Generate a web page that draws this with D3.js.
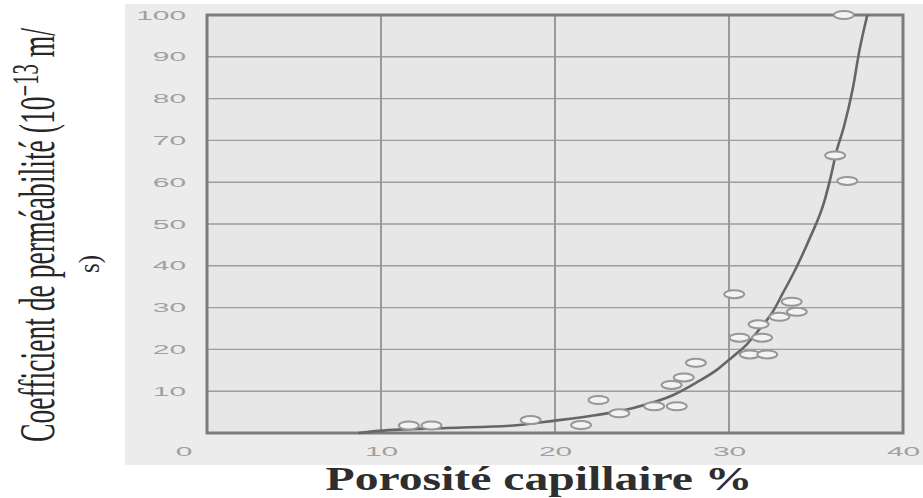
<!DOCTYPE html>
<html>
<head>
<meta charset="utf-8">
<script src="https://cdn.jsdelivr.net/npm/d3@7"></script>
<style>
  html, body { margin: 0; padding: 0; background: #ffffff; }
  svg { display: block; }
</style>
</head>
<body>
<svg id="chart" width="923" height="498"></svg>
<script>
// Capillary porosity (%) vs permeability coefficient (10^-13 m/s)
const xTicks = [10, 20, 30, 40];
const yTicks = [10, 20, 30, 40, 50, 60, 70, 80, 90, 100];
const xGrid = [10, 20, 30];
const yGrid = [10, 20, 30, 40, 50, 60, 70, 80, 90];

// measured samples: porosity (%) and permeability
const porosity = [11.6, 12.9, 18.6, 21.5, 22.5, 23.7, 25.7, 27.0, 26.7, 27.4, 28.1,
                  30.3, 30.6, 31.9, 31.2, 32.2, 31.7, 32.9, 33.6, 33.9, 36.1, 36.8, 36.6];
const permeability = [1.8, 1.8, 3.1, 1.9, 7.9, 4.7, 6.4, 6.4, 11.5, 13.3, 16.8,
                      33.2, 22.8, 22.8, 18.8, 18.8, 26.0, 27.8, 31.4, 29.0, 66.4, 60.3, 100];

// fitted trend curve
const curveX = [8.7, 9.9, 13.8, 17.6, 19.9, 22.4, 24.5, 26.8, 28.1, 29.3, 30.2, 31.0,
                31.8, 32.5, 33.1, 33.8, 34.6, 35.5, 35.8, 36.2, 36.6, 37.1, 37.5, 37.95];
const curveY = [0, 0.5, 1.2, 1.8, 2.9, 4.3, 6.0, 9.1, 12.0, 15.1, 18.2, 21.1,
                25.1, 28.9, 33.5, 39.0, 46.2, 55.7, 60.5, 67.7, 73.2, 82.1, 91.6, 100];

const svg = d3.select("#chart");
const x = d3.scaleLinear().domain([0, 40]).range([207, 903]);
const y = d3.scaleLinear().domain([0, 100]).range([433, 15]);

const tickStretch = 2.3;
const tickColor = "#a0a0a0";
const tickFont = "'Liberation Sans', Arial, sans-serif";

// grey card behind the plot
svg.append("rect")
  .attr("x", 125).attr("y", 4)
  .attr("width", 798).attr("height", 461)
  .attr("fill", "#ececec");

// plot area
svg.append("rect")
  .attr("x", x(0)).attr("y", y(100))
  .attr("width", x(40) - x(0)).attr("height", y(0) - y(100))
  .attr("fill", "#e7e7e7");

// grid
svg.append("g").selectAll("line").data(yGrid).join("line")
  .attr("x1", x(0)).attr("x2", x(40))
  .attr("y1", d => y(d)).attr("y2", d => y(d))
  .attr("stroke", "#9d9d9d").attr("stroke-width", 1.4);
svg.append("g").selectAll("line").data(xGrid).join("line")
  .attr("x1", d => x(d)).attr("x2", d => x(d))
  .attr("y1", y(0)).attr("y2", y(100))
  .attr("stroke", "#9a9a9a").attr("stroke-width", 2);

// frame
svg.append("rect")
  .attr("x", x(0)).attr("y", y(100))
  .attr("width", x(40) - x(0)).attr("height", y(0) - y(100))
  .attr("fill", "none")
  .attr("stroke", "#7c7c7c").attr("stroke-width", 3);

// trend curve
const line = d3.line()
  .x(d => x(d[0])).y(d => y(d[1]))
  .curve(d3.curveMonotoneX);
svg.append("path")
  .datum(curveX.map((v, i) => [v, curveY[i]]))
  .attr("d", line)
  .attr("fill", "none")
  .attr("stroke", "#666666")
  .attr("stroke-width", 2.6);

// sample markers
svg.append("g").selectAll("ellipse")
  .data(porosity.map((v, i) => [v, permeability[i]]))
  .join("ellipse")
  .attr("cx", d => x(d[0])).attr("cy", d => y(d[1]))
  .attr("rx", 10).attr("ry", 4)
  .attr("fill", "#f3f3f3")
  .attr("stroke", "#979797").attr("stroke-width", 2);

// axes (labels only)
const yAxis = svg.append("g")
  .attr("transform", `translate(${x(0)},0)`)
  .call(d3.axisLeft(y).tickValues(yTicks).tickSize(0).tickPadding(0));
yAxis.select(".domain").remove();
yAxis.selectAll("text")
  .attr("x", -21 / tickStretch)
  .attr("transform", `scale(${tickStretch},1)`)
  .attr("fill", tickColor)
  .style("font-family", tickFont)
  .style("font-size", "13px");

const xAxis = svg.append("g")
  .attr("transform", `translate(0,${y(0)})`)
  .call(d3.axisBottom(x).tickValues(xTicks).tickSize(0).tickPadding(14));
xAxis.select(".domain").remove();
xAxis.selectAll("text")
  .attr("transform", `scale(${tickStretch},1)`)
  .attr("fill", tickColor)
  .style("font-family", tickFont)
  .style("font-size", "13px");

// origin label
svg.append("text")
  .attr("transform", `translate(${x(0) - 23},${y(0) + 14}) scale(${tickStretch},1)`)
  .attr("dy", "0.71em")
  .attr("text-anchor", "middle")
  .attr("fill", tickColor)
  .style("font-family", tickFont)
  .style("font-size", "13px")
  .text("0");

// x axis title
const xTitle = svg.append("text")
  .attr("text-anchor", "middle")
  .attr("fill", "#2e2e2e")
  .style("font-family", "'Liberation Serif', 'Times New Roman', serif")
  .style("font-weight", "bold")
  .style("font-size", "34px")
  .text("Porosité capillaire %");
{
  const w = xTitle.node().getComputedTextLength();
  xTitle.attr("transform", `translate(539,490) scale(${427 / w},1)`);
}

// y axis title (two lines, rotated)
const yTitle = svg.append("text")
  .attr("text-anchor", "middle")
  .attr("fill", "#262626")
  .style("font-family", "'Liberation Serif', 'Times New Roman', serif")
  .style("font-size", "51px");
yTitle.append("tspan").text("Coefficient de perméabilité (10");
yTitle.append("tspan").attr("dy", -16).style("font-size", "38px").text("−13");
yTitle.append("tspan").attr("dy", 16).text(" m/");
{
  const w = yTitle.node().getComputedTextLength();
  yTitle.attr("transform", `translate(54,235) rotate(-90) scale(${414 / w},1)`);
}
const yTitle2 = svg.append("text")
  .attr("text-anchor", "middle")
  .attr("fill", "#262626")
  .style("font-family", "'Liberation Serif', 'Times New Roman', serif")
  .style("font-size", "30px")
  .text("s)");
{
  const w = yTitle2.node().getComputedTextLength();
  yTitle2.attr("transform", `translate(99,264) rotate(-90) scale(${18 / w},1)`);
}
</script>
</body>
</html>
